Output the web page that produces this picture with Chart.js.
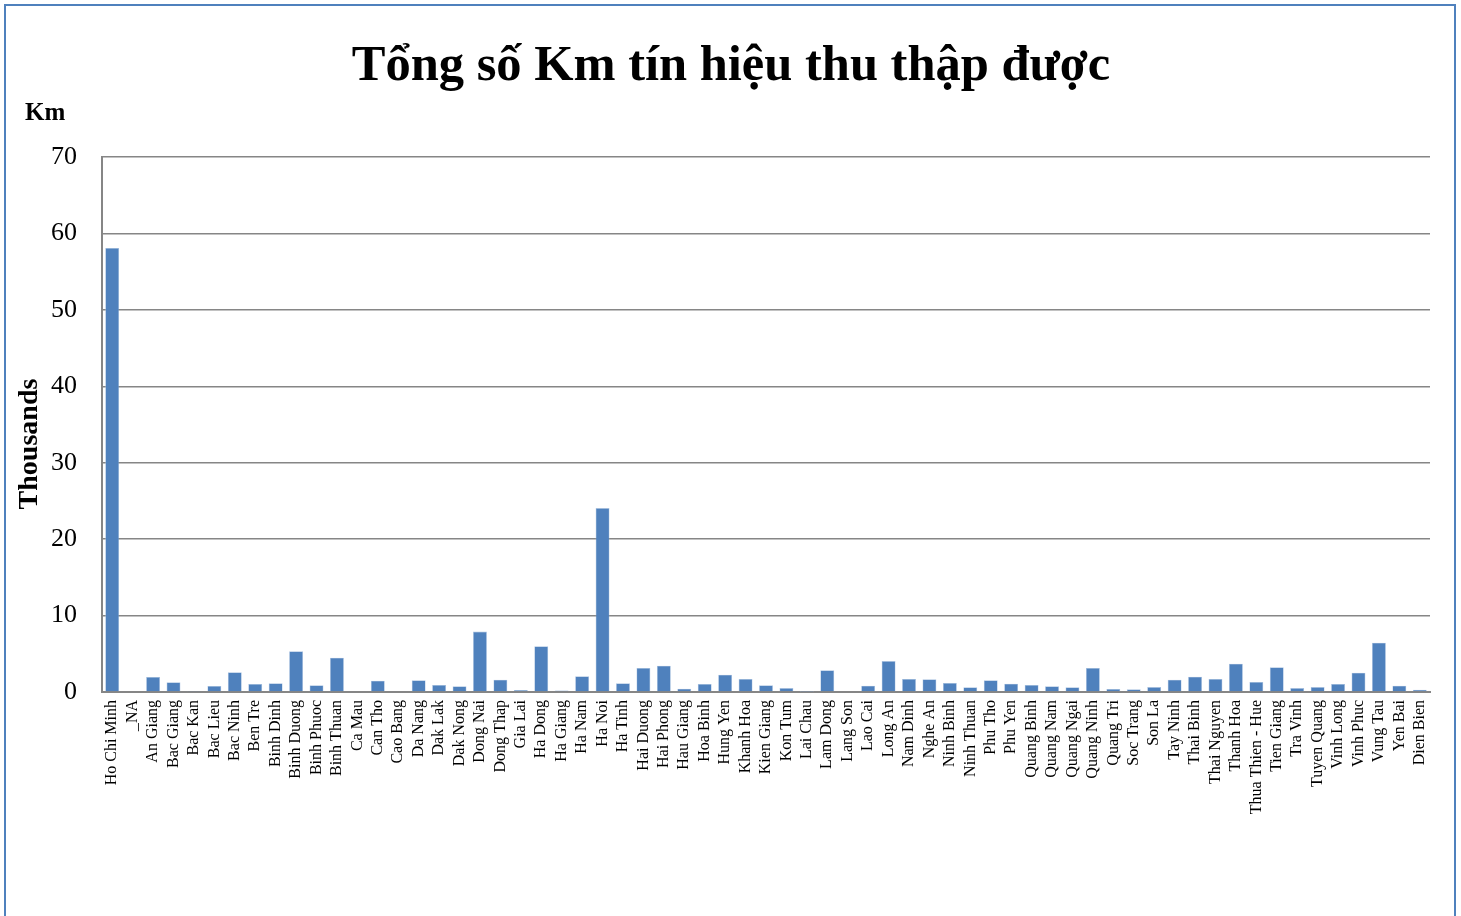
<!DOCTYPE html>
<html>
<head>
<meta charset="utf-8">
<script src="https://cdn.jsdelivr.net/npm/chart.js@4"></script>
<style>
  html, body { margin: 0; padding: 0; background: #ffffff; }
  #wrap { width: 1461px; height: 916px; position: relative; }
</style>
</head>
<body>
<div id="wrap"><canvas id="c" width="1461" height="916"></canvas></div>
<script>
const categories = ["Ho Chi Minh","_NA","An Giang","Bac Giang","Bac Kan","Bac Lieu","Bac Ninh","Ben Tre","Binh Dinh","Binh Duong","Binh Phuoc","Binh Thuan","Ca Mau","Can Tho","Cao Bang","Da Nang","Dak Lak","Dak Nong","Dong Nai","Dong Thap","Gia Lai","Ha Dong","Ha Giang","Ha Nam","Ha Noi","Ha Tinh","Hai Duong","Hai Phong","Hau Giang","Hoa Binh","Hung Yen","Khanh Hoa","Kien Giang","Kon Tum","Lai Chau","Lam Dong","Lang Son","Lao Cai","Long An","Nam Dinh","Nghe An","Ninh Binh","Ninh Thuan","Phu Tho","Phu Yen","Quang Binh","Quang Nam","Quang Ngai","Quang Ninh","Quang Tri","Soc Trang","Son La","Tay Ninh","Thai Binh","Thai Nguyen","Thanh Hoa","Thua Thien - Hue","Tien Giang","Tra Vinh","Tuyen Quang","Vinh Long","Vinh Phuc","Vung Tau","Yen Bai","Dien Bien"];

// Thousands of km
const kmThousands = [58.1,0.1,1.96,1.27,0.05,0.8,2.57,1.05,1.13,5.32,0.87,4.49,0.1,1.48,0.1,1.53,0.93,0.74,7.9,1.61,0.26,5.97,0.2,2.05,24.07,1.13,3.14,3.45,0.44,1.05,2.27,1.7,0.87,0.52,0.03,2.83,0.1,0.83,4.05,1.7,1.66,1.18,0.61,1.53,1.09,0.92,0.74,0.61,3.14,0.39,0.35,0.65,1.61,2.0,1.7,3.71,1.31,3.23,0.52,0.65,1.05,2.53,6.45,0.83,0.3];

const yTicks = [0,10,20,30,40,50,60,70];
const titleText = "Tổng số Km tín hiệu thu thập được";
const unitText = "Km";
const axisTitle = "Thousands";

const decor = {
  id: 'decor',
  beforeDraw(chart) {
    const ctx = chart.ctx;
    ctx.save();
    ctx.fillStyle = '#ffffff';
    ctx.fillRect(0, 0, chart.width, chart.height);
    ctx.restore();
  },
  afterDraw(chart) {
    const ctx = chart.ctx;
    ctx.save();
    ctx.strokeStyle = '#4f81bd';
    ctx.lineWidth = 2;
    ctx.strokeRect(5, 5, 1450, 940);
    ctx.fillStyle = '#000';
    // title
    ctx.font = 'bold 50.5px "Liberation Serif"';
    ctx.textAlign = 'center';
    ctx.textBaseline = 'alphabetic';
    ctx.fillText(titleText, 731, 80);
    // unit
    ctx.font = 'bold 25px "Liberation Serif"';
    ctx.textAlign = 'left';
    ctx.fillText(unitText, 25, 120);
    // rotated axis title
    ctx.translate(37, 444);
    ctx.rotate(-Math.PI / 2);
    ctx.font = 'bold 28px "Liberation Serif"';
    ctx.textAlign = 'center';
    ctx.fillText(axisTitle, 0, 0);
    ctx.restore();
  }
};

new Chart(document.getElementById('c'), {
  type: 'bar',
  data: {
    labels: categories,
    datasets: [{
      data: kmThousands,
      backgroundColor: '#4f81bd',
      borderColor: '#a9c1e0',
      borderWidth: 0.6,
      categoryPercentage: 1.0,
      barPercentage: 0.68
    }]
  },
  options: {
    responsive: false,
    animation: false,
    devicePixelRatio: 1,
    layout: { padding: { left: 5, right: 31, top: 157, bottom: 0 } },
    plugins: {
      legend: { display: false },
      tooltip: { enabled: false },
      title: { display: false }
    },
    scales: {
      x: {
        grid: { display: false, drawTicks: false },
        border: { display: true, color: '#868686', width: 2 },
        ticks: {
          autoSkip: false,
          minRotation: 90,
          maxRotation: 90,
          padding: 8,
          color: '#000',
          font: { family: 'Liberation Serif', size: 16 }
        },
        afterFit(scale) { scale.height = 224; }
      },
      y: {
        min: 0,
        max: 70,
        afterBuildTicks(scale) { scale.ticks = yTicks.map(v => ({ value: v })); },
        grid: { color: '#868686', lineWidth: 1.5, drawTicks: false },
        border: { display: true, color: '#868686', width: 2 },
        ticks: {
          padding: 25,
          color: '#000',
          font: { family: 'Liberation Serif', size: 26 }
        },
        afterFit(scale) { scale.width = 97; }
      }
    }
  },
  plugins: [decor]
});
</script>
</body>
</html>
